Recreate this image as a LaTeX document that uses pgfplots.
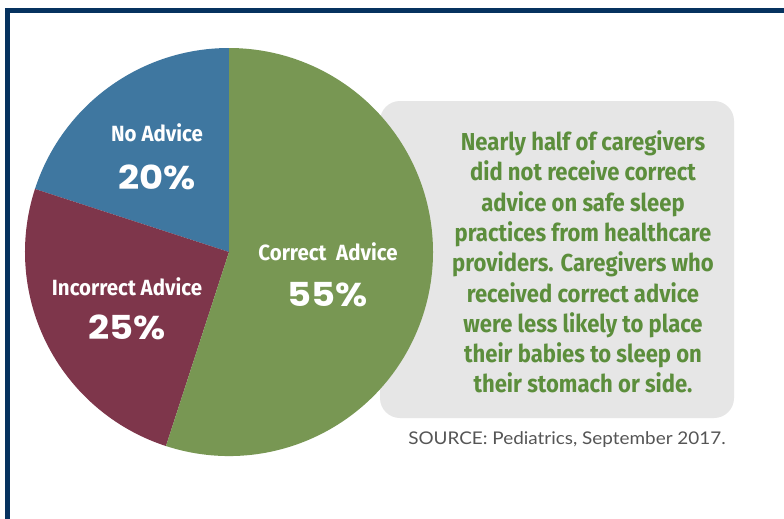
\documentclass[border=0pt]{standalone}
\usepackage{pgfplots}
\pgfplotsset{compat=1.18}
\usepackage{fontspec}
\setmainfont{Fira Sans}
\newfontfamily\cond[FakeStretch=0.9]{Fira Sans}
\newfontfamily\lab[FakeStretch=0.93]{Fira Sans}
\newfontfamily\pct[FakeStretch=1.12]{Poppins}
\newfontfamily\src[FakeStretch=1.08]{Lato}
\definecolor{cblue}{HTML}{3F77A0}
\definecolor{cred}{HTML}{7E364B}
\definecolor{cgreen}{HTML}{789753}
\definecolor{tgreen}{HTML}{5C8E3C}
\definecolor{boxgrey}{HTML}{E6E6E6}
\definecolor{navy}{HTML}{06325F}
\definecolor{srcgrey}{HTML}{555555}
\begin{document}
\begin{tikzpicture}[x=1pt,y=1pt]
\useasboundingbox (0,0) rectangle (784,-519);
\fill[white] (0,0) rectangle (784,-519);
\fill[navy] (5,-8) rectangle (784,-13);
\fill[navy] (5,-8) rectangle (10,-519);
\fill[boxgrey, rounded corners=20pt] (380,-101) rectangle (734,-418);
\begin{axis}[at={(229pt,-252pt)}, anchor=center, scale only axis,
  width=408pt, height=408pt, xmin=-1, xmax=1, ymin=-1, ymax=1,
  hide axis, clip=false]
% shares: No Advice 20, Incorrect Advice 25, Correct Advice 55 (percent)
\fill[cblue] (axis cs:0,0) -- (axis cs:0,1)
  arc[start angle=90, delta angle={20*3.6}, radius=204pt] -- cycle;
\fill[cred] (axis cs:0,0) -- (axis cs:{cos(162)},{sin(162)})
  arc[start angle=162, delta angle={25*3.6}, radius=204pt] -- cycle;
\fill[cgreen] (axis cs:0,0) -- (axis cs:{cos(252)},{sin(252)})
  arc[start angle=252, delta angle={55*3.6}, radius=204pt] -- cycle;
\end{axis}
\node[text=white, font=\lab\bfseries\fontsize{22}{24}\selectfont] at (157,-133) {No Advice};
\node[text=white, font=\pct\bfseries\fontsize{33}{36}\selectfont] at (157,-177) {20\%};
\node[text=white, font=\lab\bfseries\fontsize{22}{24}\selectfont] at (127,-287) {Incorrect Advice};
\node[text=white, font=\pct\bfseries\fontsize{33}{36}\selectfont] at (127,-327) {25\%};
\node[text=white, font=\lab\bfseries\fontsize{22}{24}\selectfont] at (328,-252) {Correct~ Advice};
\node[text=white, font=\pct\bfseries\fontsize{33}{36}\selectfont] at (328,-295) {55\%};
\node[text=tgreen, align=center, font=\cond\bfseries\fontsize{24.5}{30.3}\selectfont] at (583,-262)
 {Nearly half of caregivers\\did not receive correct\\advice on safe sleep\\practices from healthcare\\providers. Caregivers who\\received correct advice\\were less likely to place\\their babies to sleep on\\their stomach or side.};
\node[text=srcgrey, font=\src\fontsize{17.5}{20}\selectfont] at (567,-440) {SOURCE: Pediatrics, September 2017.};
\end{tikzpicture}
\end{document}
